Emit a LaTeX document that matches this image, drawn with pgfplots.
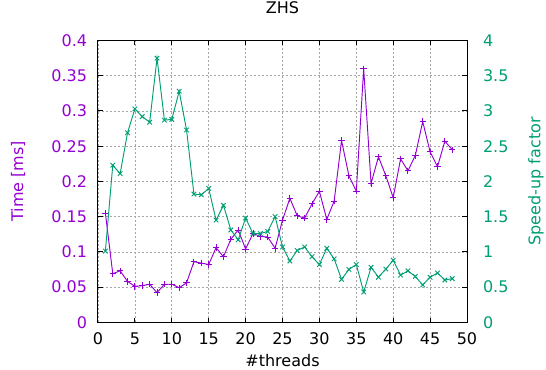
\documentclass[border=0pt]{standalone}
\usepackage{fontspec}
\setmainfont{DejaVu Sans}
\usepackage{pgfplots}
\usepackage{pgfplotstable}
\pgfplotsset{compat=1.18}
\definecolor{cTime}{HTML}{9400D3}
\definecolor{cSpeed}{HTML}{009E73}

\pgfplotstableread{
n t
1 0.155
2 0.069
3 0.073
4 0.058
5 0.051
6 0.052
7 0.054
8 0.042
9 0.054
10 0.054
11 0.049
12 0.056
13 0.086
14 0.084
15 0.082
16 0.106
17 0.093
18 0.118
19 0.131
20 0.104
21 0.126
22 0.122
23 0.121
24 0.105
25 0.145
26 0.176
27 0.151
28 0.148
29 0.168
30 0.186
31 0.146
32 0.172
33 0.258
34 0.208
35 0.186
36 0.360
37 0.197
38 0.235
39 0.208
40 0.177
41 0.232
42 0.215
43 0.237
44 0.285
45 0.242
46 0.221
47 0.257
48 0.245
}\timedata

\pgfplotstableread{
n s
1 1.01
2 2.23
3 2.11
4 2.69
5 3.03
6 2.92
7 2.84
8 3.75
9 2.87
10 2.88
11 3.28
12 2.73
13 1.82
14 1.81
15 1.90
16 1.45
17 1.66
18 1.31
19 1.17
20 1.48
21 1.26
22 1.26
23 1.29
24 1.50
25 1.07
26 0.87
27 1.02
28 1.07
29 0.93
30 0.82
31 1.05
32 0.90
33 0.61
34 0.75
35 0.82
36 0.43
37 0.78
38 0.64
39 0.755
40 0.88
41 0.67
42 0.73
43 0.65
44 0.53
45 0.64
46 0.70
47 0.60
48 0.62
}\speeddata

\begin{document}
\fontsize{12}{14.4}\selectfont
\begin{tikzpicture}
\path[use as bounding box] (-73.5pt,-35.1pt) rectangle (336pt,241.7pt);
\pgfplotsset{
  every axis/.append style={
    scale only axis, width=276.75pt, height=211.3pt,
    xmin=0, xmax=50, at={(0,0)}, anchor=south west,
    tick align=inside, major tick length=3.5pt,
    /pgf/number format/assume math mode=true,
    /pgf/number format/fixed,
    scaled ticks=false,
    axis line style={line width=0.75pt, black},
    every tick/.style={black, line width=0.75pt},
  }
}
\begin{axis}[
  ymin=0, ymax=0.4,
  xtick={0,5,10,15,20,25,30,35,40,45,50},
  ytick={0,0.05,0.1,0.15,0.2,0.25,0.3,0.35,0.4},
  xtick pos=both, ytick pos=left,
  grid=major,
  major grid style={gray!70, dash pattern=on 1.5pt off 1.5pt, line width=0.5pt},
  xlabel={\#threads}, ylabel={Time [ms]}, title={ZHS},
  ylabel style={at={(axis description cs:-0.2168,0.5)}, anchor=center, color=cTime},
  xlabel style={at={(axis description cs:0.5,0)}, anchor=center, yshift=-29pt},
  title style={at={(axis description cs:0.5,1)}, anchor=center, yshift=18.75pt},
  yticklabel style={color=cTime, xshift=-4pt},
  xticklabel style={yshift=-3.6pt},
]
\addplot[color=cTime, line width=0.7pt, mark=+, mark size=2.4pt] table[x=n, y=t] {\timedata};
\end{axis}
\begin{axis}[
  ymin=0, ymax=4,
  axis x line=none, axis y line*=right,
  ytick={0,0.5,1,1.5,2,2.5,3,3.5,4},
  ylabel={Speed-up factor},
  ylabel style={at={(axis description cs:1.187,0.5)}, anchor=center, color=cSpeed},
  yticklabel style={color=cSpeed, xshift=7.8pt},
]
\addplot[color=cSpeed, line width=0.7pt, mark=x, mark size=2.4pt] table[x=n, y=s] {\speeddata};
\end{axis}
\end{tikzpicture}
\end{document}
